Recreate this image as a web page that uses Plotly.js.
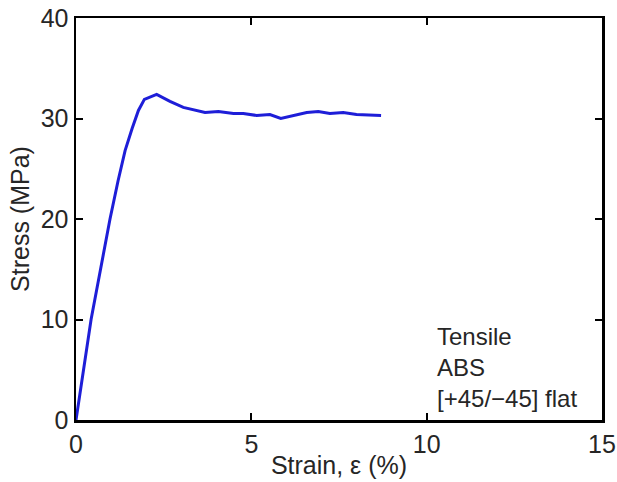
<!DOCTYPE html>
<html><head><meta charset="utf-8">
<script src="https://cdn.plot.ly/plotly-3.0.1.min.js"></script>
<style>html,body{margin:0;padding:0;background:#fff}#plot{width:617px;height:482px}</style>
</head><body><div id="plot"></div>
<script>
const strain = [0, 0.21, 0.43, 0.70, 0.97, 1.20, 1.40, 1.60, 1.78, 1.95, 2.30, 2.68, 3.06, 3.68, 4.06, 4.49, 4.77, 5.15, 5.53, 5.84, 6.20, 6.58, 6.91, 7.24, 7.62, 8.00, 8.70];
const stress = [0, 5.1, 10, 15, 20, 23.8, 26.8, 29.0, 30.8, 31.9, 32.4, 31.7, 31.1, 30.6, 30.7, 30.5, 30.5, 30.3, 30.4, 30.0, 30.3, 30.6, 30.7, 30.5, 30.6, 30.4, 30.3];
const xTicks = [0, 5, 10, 15];
const yTicks = [0, 10, 20, 30, 40];
const noteLines = ["Tensile", "ABS", "[+45/\u221245] flat"];

const fam = "Liberation Sans, Arial, Helvetica, sans-serif";
const txt = "#262626";
Plotly.newPlot("plot", [{
  x: strain, y: stress, type: "scatter", mode: "lines",
  line: {color: "#1e1ed8", width: 3}, hoverinfo: "skip"
}], {
  width: 617, height: 482,
  margin: {l: 76, r: 15, t: 18, b: 62},
  paper_bgcolor: "#fff", plot_bgcolor: "#fff",
  showlegend: false,
  font: {family: fam, color: txt, size: 25},
  xaxis: {
    range: [0, 15], tickvals: xTicks, ticktext: xTicks.map(String),
    ticks: "inside", ticklen: 7, tickwidth: 2, tickcolor: "#000",
    showline: true, linecolor: "#000", linewidth: 2.5, mirror: "ticks",
    showgrid: false, zeroline: false,
    tickfont: {size: 25, family: fam, color: txt},
    title: {text: "Strain, \u03b5 (%)", font: {size: 25, family: fam, color: txt}, standoff: 0}
  },
  yaxis: {
    range: [0, 40], tickvals: yTicks, ticktext: yTicks.map(String),
    ticks: "inside", ticklen: 7, tickwidth: 2, tickcolor: "#000",
    showline: true, linecolor: "#000", linewidth: 2.5, mirror: "ticks",
    showgrid: false, zeroline: false,
    tickfont: {size: 25, family: fam, color: txt},
    title: {text: "Stress (MPa)", font: {size: 25, family: fam, color: txt}, standoff: 4}
  },
  annotations: [{
    xref: "x", yref: "y", x: 10.25, y: 5.2, xanchor: "left", yanchor: "middle",
    align: "left", showarrow: false,
    text: noteLines.join("<br>"),
    font: {size: 24, family: fam, color: txt}
  }]
}, {displayModeBar: false, staticPlot: true});
</script></body></html>
